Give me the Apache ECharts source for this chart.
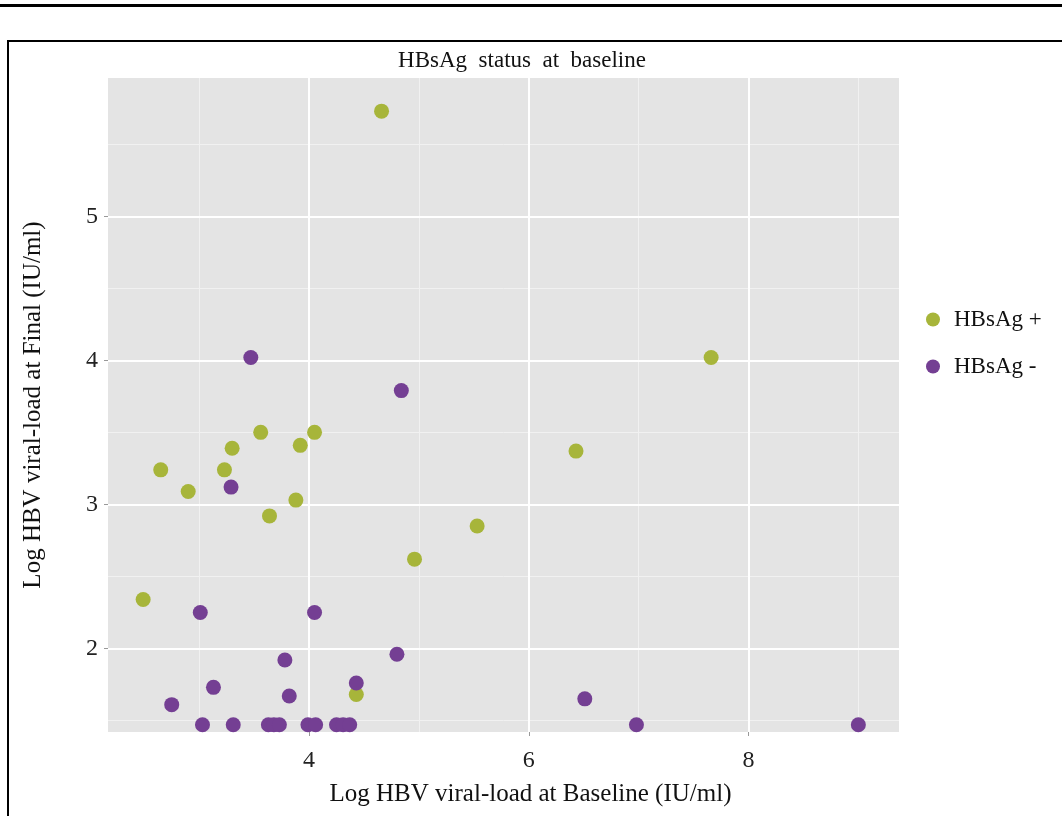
<!DOCTYPE html>
<html>
<head>
<meta charset="utf-8">
<script src="https://cdn.jsdelivr.net/npm/echarts@6/dist/echarts.min.js"></script>
<style>
  html, body { margin: 0; padding: 0; background: #fff; }
  #eChart { width: 1062px; height: 816px; }
</style>
</head>
<body>
<div id="eChart"></div>
<script>
// HBsAg + (green)
var posX = [2.49, 2.65, 2.90, 3.23, 3.30, 3.56, 3.64, 3.88, 3.92, 4.05, 4.43, 4.66, 4.96, 5.53, 6.43, 7.66];
var posY = [2.34, 3.24, 3.09, 3.24, 3.39, 3.50, 2.92, 3.03, 3.41, 3.50, 1.68, 5.73, 2.62, 2.85, 3.37, 4.02];

// HBsAg - (purple)
var negX = [2.75, 3.01, 3.03, 3.13, 3.29, 3.31, 3.47, 3.63, 3.68, 3.73, 3.78, 3.82, 3.99, 4.05, 4.06, 4.25, 4.31, 4.37, 4.43, 4.80, 4.84, 6.51, 6.98, 9.00];
var negY = [1.61, 2.25, 1.47, 1.73, 3.12, 1.47, 4.02, 1.47, 1.47, 1.47, 1.92, 1.67, 1.47, 2.25, 1.47, 1.47, 1.47, 1.47, 1.76, 1.96, 3.79, 1.65, 1.47, 1.47];

var xMajor = [4, 6, 8];
var xMinor = [3, 5, 7, 9];
var yMajor = [2, 3, 4, 5];
var yMinor = [1.5, 2.5, 3.5, 4.5, 5.5];

var seriesNames = ['HBsAg +', 'HBsAg -'];
var colors = ['#a7b53a', '#743f93'];

function pairs(xs, ys) {
  return xs.map(function (x, i) { return [x, ys[i]]; });
}

function gridLines(xs, ys) {
  var out = [];
  xs.forEach(function (v) { out.push({ xAxis: v }); });
  ys.forEach(function (v) { out.push({ yAxis: v }); });
  return out;
}

var serif = 'Liberation Serif';
var mainChart = echarts.init(document.getElementById('eChart'));

var option = {
  animation: false,
  title: {
    text: 'HBsAg  status  at  baseline',
    left: 517,
    top: 44,
    textAlign: 'center',
    textStyle: { fontFamily: serif, fontSize: 23, fontWeight: 'normal', color: '#111' }
  },
  legend: {
    data: seriesNames,
    orient: 'vertical',
    left: 921,
    top: 303,
    itemGap: 24,
    itemWidth: 14,
    itemHeight: 14,
    icon: 'circle',
    textStyle: { fontFamily: serif, fontSize: 23, color: '#111', padding: [0, 0, 0, 9] }
  },
  grid: {
    left: 108,
    top: 78,
    right: 163,
    bottom: 84,
    show: true,
    backgroundColor: '#e4e4e4',
    borderWidth: 0
  },
  xAxis: {
    type: 'value',
    min: 2.17,
    max: 9.37,
    name: 'Log HBV viral-load at Baseline (IU/ml)',
    nameLocation: 'middle',
    nameGap: 50,
    nameTextStyle: { fontFamily: serif, fontSize: 25, color: '#111', padding: [0, 0, 0, 54] },
    axisLine: { show: false },
    axisTick: { show: true, length: 4, customValues: xMajor, lineStyle: { color: '#999' } },
    axisLabel: { customValues: xMajor, margin: 17, fontFamily: serif, fontSize: 24, color: '#222' },
    splitLine: { show: false }
  },
  yAxis: {
    type: 'value',
    min: 1.42,
    max: 5.96,
    name: 'Log HBV viral-load at Final (IU/ml)',
    nameLocation: 'middle',
    nameGap: 62,
    nameTextStyle: { fontFamily: serif, fontSize: 25, color: '#111' },
    axisLine: { show: false },
    axisTick: { show: true, length: 4, customValues: yMajor, lineStyle: { color: '#999' } },
    axisLabel: { customValues: yMajor, margin: 10, fontFamily: serif, fontSize: 24, color: '#222' },
    splitLine: { show: false }
  },
  graphic: [
    { type: 'rect', shape: { x: 0, y: 4, width: 1062, height: 3 }, style: { fill: '#000' } },
    { type: 'rect', shape: { x: 8, y: 41, width: 1070, height: 800 }, style: { fill: 'none', stroke: '#000', lineWidth: 2 }, z: -1 }
  ],
  series: [
    {
      type: 'scatter',
      silent: true,
      z: 1,
      data: [],
      markLine: {
        silent: true,
        z: 1,
        symbol: 'none',
        label: { show: false },
        lineStyle: { color: '#f1f1f1', width: 1, type: 'solid' },
        data: gridLines(xMinor, yMinor)
      }
    },
    {
      type: 'scatter',
      silent: true,
      z: 1,
      data: [],
      markLine: {
        silent: true,
        z: 2,
        symbol: 'none',
        label: { show: false },
        lineStyle: { color: '#ffffff', width: 2, type: 'solid' },
        data: gridLines(xMajor, yMajor)
      }
    },
    {
      name: seriesNames[0],
      type: 'scatter',
      z: 3,
      symbolSize: 15,
      itemStyle: { color: colors[0], opacity: 1 },
      data: pairs(posX, posY)
    },
    {
      name: seriesNames[1],
      type: 'scatter',
      z: 4,
      symbolSize: 15,
      itemStyle: { color: colors[1], opacity: 1 },
      data: pairs(negX, negY)
    }
  ]
};

mainChart.setOption(option);
</script>
</body>
</html>
